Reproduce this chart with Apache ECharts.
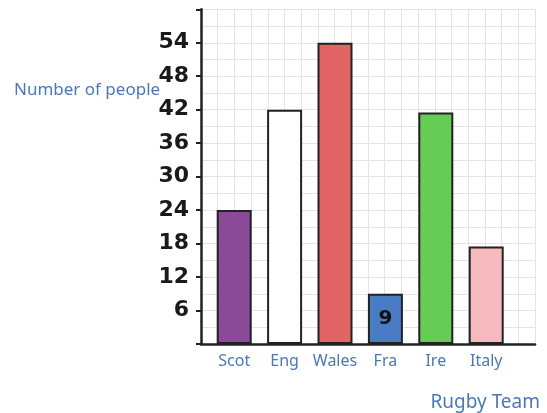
<!DOCTYPE html>
<html>
<head>
<meta charset="utf-8">
<script src="https://cdn.jsdelivr.net/npm/echarts@6/dist/echarts.min.js"></script>
<style>
html,body{margin:0;padding:0;background:#fff;}
#c{width:547px;height:413px;}
</style>
</head>
<body>
<div id="c"></div>
<script>
var categories = ['Scot', 'Eng', 'Wales', 'Fra', 'Ire', 'Italy'];
var values = [24, 42, 54, 9, 41.5, 17.5];
var barLabels = ['', '', '', '9', '', ''];
var barColors = ['#8a4a97', '#ffffff', '#e36464', '#4a7cc6', '#66cc55', '#f5b9bf'];
var yTicks = [6, 12, 18, 24, 30, 36, 42, 48, 54];

var blue = '#4a78b8';
var chart = echarts.init(document.getElementById('c'));
chart.setOption({
  backgroundColor: '#ffffff',
  animation: false,
  title: [
    { text: 'Number of people', left: 9, top: 77,
      textStyle: { color: blue, fontSize: 17, fontWeight: 'normal', fontFamily: 'Noto Sans' } },
    { text: 'Rugby Team', right: 2, top: 388,
      textStyle: { color: blue, fontSize: 19, fontWeight: 'normal', fontFamily: 'Noto Sans' } }
  ],
  grid: [
    { left: 209, right: 35.6, top: 9.3, bottom: 69 },
    { left: 201, right: 12, top: 9.3, bottom: 69 }
  ],
  xAxis: [
    { type: 'category', gridIndex: 0, data: categories,
      axisLine: { show: false }, axisTick: { show: false },
      axisLabel: { color: blue, fontSize: 16, fontFamily: 'Noto Sans', margin: 9, interval: 0 } },
    { type: 'value', gridIndex: 1, min: 0, max: 20, interval: 1,
      axisLine: { show: true, onZero: false, lineStyle: { color: '#222', width: 2.5 } },
      axisTick: { show: false }, axisLabel: { show: false },
      splitLine: { show: true, lineStyle: { color: '#e4e4e4', width: 1 } } }
  ],
  yAxis: [
    { type: 'value', gridIndex: 0, min: 0, max: 60, interval: 6, show: false },
    { type: 'value', gridIndex: 1, min: 0, max: 60, interval: 6,
      axisLine: { show: true, lineStyle: { color: '#222', width: 2.5 } },
      axisTick: { show: true, length: 5, lineStyle: { color: '#222', width: 2 } },
      axisLabel: { color: '#1a1a1a', fontSize: 22, fontWeight: 'bold', fontFamily: 'DejaVu Sans', margin: 12,
        formatter: function (v) { return yTicks.indexOf(v) >= 0 ? String(v) : ''; } },
      splitLine: { show: true, lineStyle: { color: '#e4e4e4', width: 1 } },
      minorTick: { show: false, splitNumber: 2 },
      minorSplitLine: { show: true, lineStyle: { color: '#e4e4e4', width: 1 } } }
  ],
  series: [{
    type: 'bar', xAxisIndex: 0, yAxisIndex: 0, barWidth: 35,
    data: values.map(function (v, i) {
      return { value: v, itemStyle: { color: barColors[i] } };
    }),
    itemStyle: { borderColor: '#222', borderWidth: 2 },
    label: { show: true, position: 'inside', color: '#111', fontSize: 20, fontWeight: 'bold',
      fontFamily: 'DejaVu Sans',
      formatter: function (p) { return barLabels[p.dataIndex]; } }
  }]
});
</script>
</body>
</html>
